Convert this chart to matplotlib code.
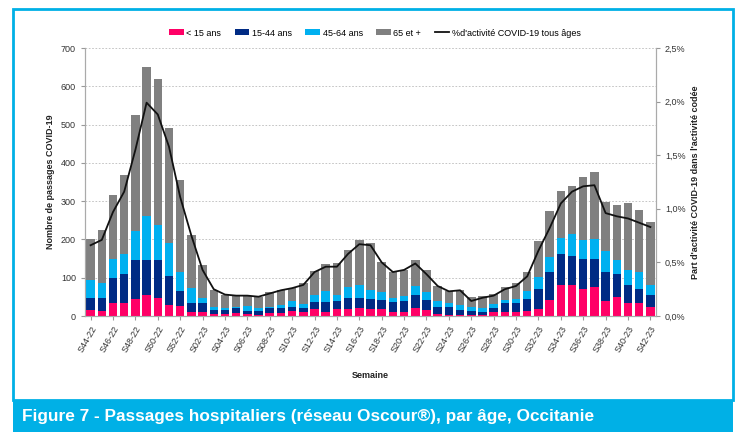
import matplotlib
matplotlib.use("Agg")
import matplotlib.pyplot as plt
from matplotlib.patches import Rectangle
from matplotlib.lines import Line2D
from matplotlib.patches import Patch
from matplotlib.ticker import FuncFormatter, MultipleLocator

plt.rcParams['font.family'] = ['Liberation Sans', 'DejaVu Sans']

weeks = [f"S{w:02d}-22" for w in range(44, 53)] + [f"S{w:02d}-23" for w in range(1, 43)]

lt15 = [15,13,33,34,45,56,46,30,26,11,11,5,5,7,5,3,9,7,12,10,17,11,17,18,20,17,19,10,11,22,
        15,5,3,3,2,3,10,10,11,12,17,42,82,80,70,77,38,49,34,34,24]
a15_44 = [33,35,66,76,100,89,99,75,40,22,22,10,10,14,9,9,12,14,11,11,19,25,23,29,28,27,22,26,27,33,
          26,19,21,12,11,8,11,23,24,32,53,74,81,76,79,72,77,61,46,37,32]
a45_64 = [45,39,49,53,77,115,92,86,49,39,15,9,5,3,12,9,3,8,15,10,20,30,16,29,32,23,22,11,13,24,
          22,14,11,14,11,11,10,8,9,21,33,38,42,58,50,52,55,37,41,44,26]
a65p = [109,138,168,204,304,390,381,299,240,140,85,44,35,29,27,28,38,39,35,55,61,71,82,97,118,123,77,67,69,68,
        58,40,29,39,26,30,27,36,43,50,92,120,122,126,163,176,128,142,173,161,164]
pct = [0.66,0.71,0.97,1.16,1.55,1.99,1.88,1.58,1.11,0.75,0.43,0.25,0.20,0.19,0.19,0.18,0.21,0.24,0.26,0.29,
       0.41,0.46,0.46,0.58,0.67,0.66,0.50,0.41,0.43,0.49,0.39,0.28,0.23,0.24,0.14,0.17,0.19,0.25,0.28,0.37,
       0.61,0.82,1.05,1.16,1.21,1.22,0.96,0.93,0.91,0.87,0.83]

series_labels = ["< 15 ans", "15-44 ans", "45-64 ans", "65 et +"]
colors = ["#ff0066", "#002b84", "#00b0f0", "#808080"]
line_label = "%d'activité COVID-19 tous âges"

fig = plt.figure(figsize=(7.41, 4.32), dpi=100)
ax = fig.add_axes([85/741, 1-316/432, (656-85)/741, (316-48)/432])
ax2 = ax.twinx()

x = list(range(len(weeks)))
bottom = [0]*len(weeks)
for vals, c in zip([lt15, a15_44, a45_64, a65p], colors):
    ax.bar(x, vals, bottom=bottom, width=0.76, color=c, edgecolor='none', zorder=3)
    bottom = [b+v for b, v in zip(bottom, vals)]

ax2.plot(x, pct, color='#111111', lw=1.3, zorder=5)

ax.set_xlim(-0.5, len(weeks)-0.5)
ax.set_ylim(0, 700)
ax2.set_ylim(0, 2.5)
ax.yaxis.set_major_locator(MultipleLocator(100))
ax2.yaxis.set_major_locator(MultipleLocator(0.5))
ax2.yaxis.set_major_formatter(FuncFormatter(lambda v, p: f"{v:.1f}%".replace('.', ',')))
ax.grid(axis='y', color='#bbbbbb', linestyle=(0, (2, 2)), lw=0.6, zorder=0)
ax.set_axisbelow(True)

ax.set_xticks(x[::2])
ax.set_xticklabels(weeks[::2], rotation=60, ha='right', rotation_mode='anchor', fontsize=6.5, color='#333333')
ax.tick_params(axis='x', length=3, color='#999999', pad=3)
ax.tick_params(axis='y', labelsize=6.5, length=3, color='#999999', labelcolor='#333333')
ax2.tick_params(axis='y', labelsize=6.5, length=3, color='#999999', labelcolor='#333333')

for a in (ax, ax2):
    a.spines['top'].set_visible(False)
    for s in ('left', 'right', 'bottom'):
        a.spines[s].set_color('#aaaaaa')
        a.spines[s].set_linewidth(0.8)

ax.set_ylabel("Nombre de passages COVID-19", fontsize=6.5, fontweight='bold', color='#222222', labelpad=4)
ax2.set_ylabel("Part d'activité COVID-19 dans l'activité codée", fontsize=6.5, fontweight='bold', color='#222222', labelpad=4)
ax.set_xlabel("Semaine", fontsize=6.5, fontweight='bold', color='#222222', labelpad=12)

handles = [Patch(facecolor=c, edgecolor='none') for c in colors] + [Line2D([0], [0], color='#111111', lw=1.3)]
fig.legend(handles, series_labels + [line_label], loc='center', bbox_to_anchor=(375/741, 1-33/432),
           ncol=5, frameon=False, fontsize=6.5, handlelength=1.6, handleheight=0.6, columnspacing=1.5,
           handletextpad=0.3)

# frame and banner
blue = "#00b0e6"
fig.patches.append(Rectangle((13/741, 1-400/432), (733-13)/741, (400-9)/432, transform=fig.transFigure,
                             fill=False, edgecolor=blue, lw=2.0, zorder=0))
fig.patches.append(Rectangle((13/741, 0), (733-13)/741, 32/432, transform=fig.transFigure,
                             facecolor=blue, edgecolor='none', zorder=0))
fig.text(22/741, 16/432, "Figure 7 - Passages hospitaliers (réseau Oscour®), par âge, Occitanie",
         color='white', fontsize=12.4, fontweight='bold', va='center', ha='left',
         family=['Liberation Sans Narrow', 'Liberation Sans', 'DejaVu Sans'])

fig.savefig("out.png", dpi=100)
